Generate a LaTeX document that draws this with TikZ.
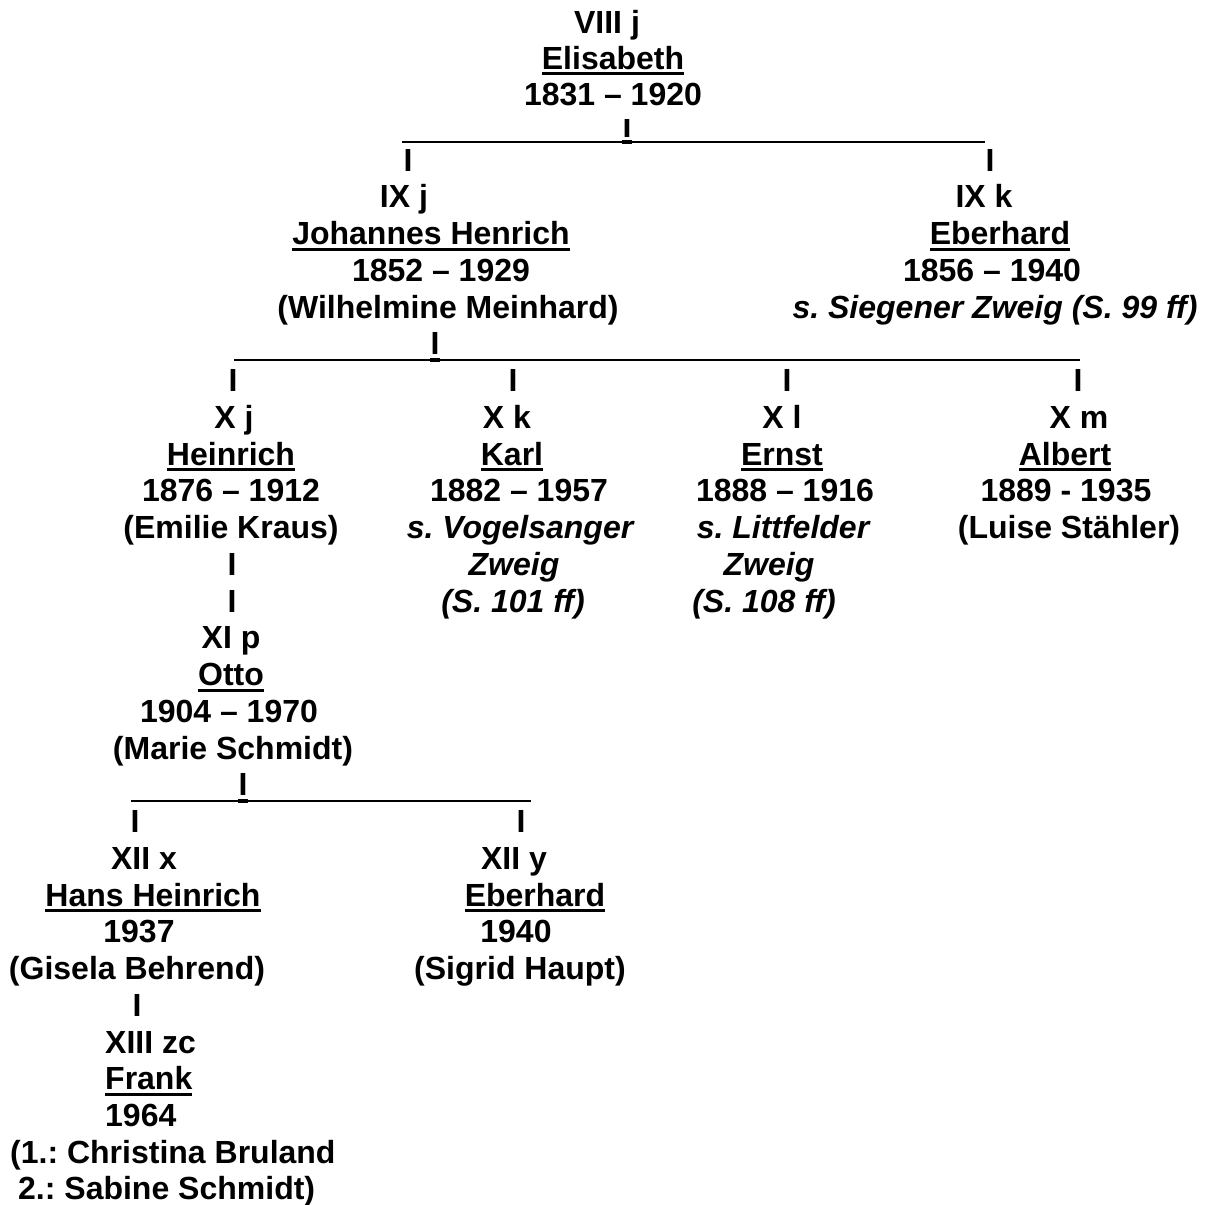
\documentclass[tikz,border=0pt]{standalone}
\usepackage{fontspec}
\setmainfont{Liberation Sans}
\usepackage{tikz}

\newcommand{\nameline}[1]{\setbox0=\hbox{#1}\rlap{\rule[-6pt]{\wd0}{3pt}}\box0}

\begin{document}
\frenchspacing
\begin{tikzpicture}[x=1pt, y=-36.74pt,
    txt/.style={anchor=base, inner sep=0pt, font=\fontsize{32}{36}\selectfont\bfseries},
    lft/.style={txt, anchor=base west},
    ital/.style={txt, font=\fontsize{32}{36}\selectfont\bfseries\itshape},
    bar/.style={line width=2pt},
    joint/.style={line width=4pt}]

\useasboundingbox (0,-0.661) rectangle (1211,32.136);

% VIII j
\node[txt] (e0) at (607,0.24) {VIII j};
\node[txt] (e1) at (613,1.23) {\nameline{Elisabeth}};
\node[txt] (e2) at (613,2.22) {1831 -- 1920};
\begin{scope}
\clip (580,2.6) rectangle (680,3.3);
\node[txt] (e3) at (627,3.09) {I};
\end{scope}
\coordinate (b1l) at (402,3.2);
\coordinate (b1r) at (985,3.2);
\draw[bar] (b1l) -- (b1r);
\draw[joint] (e3.west |- b1l) -- (e3.east |- b1l);
\node[txt] (jh0) at (408,4.02) {I};
\node[txt] (eb0) at (990,4.02) {I};

% IX j and IX k
\node[txt] (jh1) at (404,5) {IX j};
\node[txt] (jh2) at (431,6) {\nameline{Johannes Henrich}};
\node[txt] (jh3) at (441,7) {1852 -- 1929};
\node[txt] (jh4) at (448,8) {(Wilhelmine Meinhard)};
\node[txt] (jh5) at (435,9) {I};
\node[txt] (eb1) at (984,5) {IX k};
\node[txt] (eb2) at (1000,6) {\nameline{Eberhard}};
\node[txt] (eb3) at (992,7) {1856 -- 1940};
\node[ital] (eb4) at (995,8) {s. Siegener Zweig (S. 99 ff)};
\coordinate (b2l) at (234,9.14);
\coordinate (b2r) at (1080,9.14);
\draw[bar] (b2l) -- (b2r);
\draw[joint] (jh5.west |- b2l) -- (jh5.east |- b2l);
\node[txt] (he0) at (233,10) {I};
\node[txt] (ka0) at (513,10) {I};
\node[txt] (er0) at (787,10) {I};
\node[txt] (al0) at (1078,10) {I};

% X j .. X m
\node[txt] (he1) at (234,11) {X j};
\node[txt] (he2) at (231,12) {\nameline{Heinrich}};
\node[txt] (he3) at (231,13) {1876 -- 1912};
\node[txt] (he4) at (231,14) {(Emilie Kraus)};
\node[txt] (he5) at (232,15) {I};
\node[txt] (he6) at (232,16) {I};

\node[txt] (ka1) at (507,11) {X k};
\node[txt] (ka2) at (512,12) {\nameline{Karl}};
\node[txt] (ka3) at (519,13) {1882 -- 1957};
\node[ital] (ka4) at (520,14) {s. Vogelsanger};
\node[ital] (ka5) at (514,15) {Zweig};
\node[ital] (ka6) at (513,16) {(S. 101 ff)};

\node[txt] (er1) at (782,11) {X l};
\node[txt] (er2) at (782,12) {\nameline{Ernst}};
\node[txt] (er3) at (785,13) {1888 -- 1916};
\node[ital] (er4) at (783,14) {s. Littfelder};
\node[ital] (er5) at (769,15) {Zweig};
\node[ital] (er6) at (764,16) {(S. 108 ff)};

\node[txt] (al1) at (1079,11) {X m};
\node[txt] (al2) at (1065,12) {\nameline{Albert}};
\node[txt] (al3) at (1066,13) {1889 - 1935};
\node[txt] (al4) at (1069,14) {(Luise Stähler)};

% XI p
\node[txt] (ot1) at (231,17) {XI p};
\node[txt] (ot2) at (231,18) {\nameline{Otto}};
\node[txt] (ot3) at (229,19) {1904 -- 1970};
\node[txt] (ot4) at (233,20) {(Marie Schmidt)};
\node[txt] (ot5) at (243,21) {I};
\coordinate (b3l) at (131,21.14);
\coordinate (b3r) at (531,21.14);
\draw[bar] (b3l) -- (b3r);
\draw[joint] (ot5.west |- b3l) -- (ot5.east |- b3l);
\node[txt] (hh0) at (135,22) {I};
\node[txt] (ey0) at (521,22) {I};

% XII x and XII y
\node[txt] (hh1) at (144,23) {XII x};
\node[txt] (hh2) at (153,24) {\nameline{Hans Heinrich}};
\node[txt] (hh3) at (139,25) {1937};
\node[txt] (hh4) at (137,26) {(Gisela Behrend)};
\node[txt] (hh5) at (137,27) {I};
\node[txt] (ey1) at (514,23) {XII y};
\node[txt] (ey2) at (535,24) {\nameline{Eberhard}};
\node[txt] (ey3) at (516,25) {1940};
\node[txt] (ey4) at (520,26) {(Sigrid Haupt)};

% XIII zc
\node[lft] (fr1) at (105,28) {XIII zc};
\node[lft] (fr2) at (105,29) {\nameline{Frank}};
\node[lft] (fr3) at (105,30) {1964};
\node[lft] (fr4) at (10,31) {(1.: Christina Bruland};
\node[lft] (fr5) at (18,32) {2.: Sabine Schmidt)};

\end{tikzpicture}
\end{document}
